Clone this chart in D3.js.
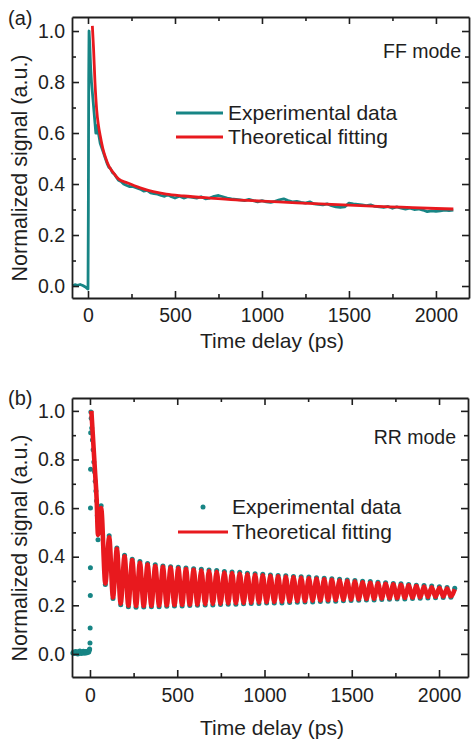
<!DOCTYPE html>
<html lang="en">
<head>
  <meta charset="UTF-8">
  <title>Time-resolved signal</title>
  <style>
    html, body { margin: 0; background: #fff; }
    svg { display: block; font-family: "Liberation Sans", Arial, sans-serif; }
  </style>
</head>
<body>
  <svg id="chart"></svg>
  <script src="https://cdn.jsdelivr.net/npm/d3@7"></script>
  <script>
    // ---- data ----
    var majorX = [0, 500, 1000, 1500, 2000]
    var minorX = [250, 750, 1250, 1750]
    var majorY = [0, 0.2, 0.4, 0.6, 0.8, 1.0]
    var minorY = [0.1, 0.3, 0.5, 0.7, 0.9]

    // (a) FF mode, experimental trace
    var expA_t = [-90, -75, -60, -45, -30, -15, -5, 0, 2, 4, 6, 10, 15, 20, 25, 30, 35, 40, 45, 50, 55, 60, 65, 70, 80, 90, 100, 110, 120, 130, 140, 150, 160, 175, 190, 205, 220, 240, 260, 280, 300, 320, 340, 360, 380, 400, 420, 440, 460, 480, 500, 525, 550, 575, 600, 625, 650, 675, 700, 725, 750, 775, 800, 825, 850, 875, 900, 925, 950, 975, 1000, 1025, 1050, 1075, 1100, 1125, 1150, 1175, 1200, 1225, 1250, 1275, 1300, 1325, 1350, 1375, 1400, 1425, 1450, 1475, 1500, 1525, 1550, 1575, 1600, 1625, 1650, 1675, 1700, 1725, 1750, 1775, 1800, 1825, 1850, 1875, 1900, 1925, 1950, 1975, 2000, 2025, 2050, 2075, 2100]
    var expA_v = [0.0, 0.005, 0.003, 0.006, 0.002, -0.004, -0.01, -0.012, 0.3, 0.8, 1.0, 0.95, 0.86, 0.8, 0.76, 0.72, 0.68, 0.64, 0.6, 0.6, 0.63, 0.6, 0.58, 0.56, 0.54, 0.52, 0.5, 0.48, 0.465, 0.46, 0.445, 0.44, 0.43, 0.415, 0.41, 0.4, 0.395, 0.39, 0.39, 0.385, 0.38, 0.372, 0.375, 0.365, 0.362, 0.36, 0.355, 0.352, 0.358, 0.35, 0.345, 0.352, 0.345, 0.35, 0.348, 0.345, 0.35, 0.342, 0.345, 0.352, 0.355, 0.35, 0.345, 0.342, 0.34, 0.338, 0.335, 0.34, 0.335, 0.33, 0.335, 0.33, 0.328, 0.332, 0.338, 0.342, 0.335, 0.33, 0.332, 0.328, 0.325, 0.33, 0.322, 0.32, 0.318, 0.322, 0.315, 0.31, 0.308, 0.31, 0.325, 0.322, 0.32, 0.318, 0.315, 0.318, 0.312, 0.31, 0.308, 0.312, 0.305, 0.31, 0.305, 0.302, 0.305, 0.3, 0.302, 0.298, 0.292, 0.295, 0.293, 0.295, 0.298, 0.296, 0.298]

    // (a) theoretical fitting
    var fitA_t = [25, 32, 40, 50, 60, 70, 85, 100, 120, 145, 175, 225, 300, 375, 450, 550, 700, 850, 1000, 1200, 1400, 1600, 1800, 2000, 2100]
    var fitA_v = [1.02, 0.93, 0.8, 0.69, 0.63, 0.59, 0.54, 0.505, 0.47, 0.445, 0.42, 0.405, 0.385, 0.37, 0.36, 0.353, 0.345, 0.338, 0.333, 0.326, 0.32, 0.314, 0.309, 0.304, 0.302]

    // (b) RR mode, experimental points before the oscillations
    var expB_t = [-98, -94, -90, -86, -82, -78, -74, -70, -66, -62, -58, -54, -50, -46, -42, -38, -34, -30, -26, -22, -18, -14, -10, -7, -4, -2, 0, 1, 2, 2.5, 3, 3.5, 4, 5, 7, 10, 14, 18, 22, 26, 30, 34, 38, 42, 46, 52, 58, 64]
    var expB_v = [0.004, 0.008, 0.002, 0.006, 0.01, 0.003, 0.007, 0.0, 0.009, 0.004, 0.012, 0.005, 0.002, 0.008, 0.006, 0.011, 0.003, 0.007, 0.01, 0.004, 0.009, 0.006, 0.012, 0.008, 0.015, 0.02, 0.045, 0.107, 0.24, 0.355, 0.6, 0.76, 0.91, 0.995, 0.97, 0.93, 0.88, 0.84, 0.79, 0.75, 0.71, 0.67, 0.63, 0.57, 0.47, 0.5, 0.56, 0.61]

    // (b) oscillation extrema
    var peakB_t = [110, 154, 198, 242, 286, 330, 374, 418, 462, 506, 550, 594, 638, 682, 726, 770, 814, 858, 902, 946, 990, 1034, 1078, 1122, 1166, 1210, 1254, 1298, 1342, 1386, 1430, 1474, 1518, 1562, 1606, 1650, 1694, 1738, 1782, 1826, 1870, 1914, 1958, 2002, 2046, 2090]
    var troughB_t = [88, 132, 176, 220, 264, 308, 352, 396, 440, 484, 528, 572, 616, 660, 704, 748, 792, 836, 880, 924, 968, 1012, 1056, 1100, 1144, 1188, 1232, 1276, 1320, 1364, 1408, 1452, 1496, 1540, 1584, 1628, 1672, 1716, 1760, 1804, 1848, 1892, 1936, 1980, 2024, 2068]
    var expPeakB = [0.486, 0.436, 0.406, 0.39, 0.38, 0.372, 0.367, 0.362, 0.359, 0.357, 0.353, 0.35, 0.348, 0.345, 0.343, 0.339, 0.337, 0.336, 0.332, 0.33, 0.328, 0.325, 0.323, 0.322, 0.319, 0.317, 0.316, 0.313, 0.311, 0.309, 0.307, 0.304, 0.302, 0.299, 0.298, 0.295, 0.293, 0.29, 0.289, 0.286, 0.283, 0.281, 0.279, 0.276, 0.273, 0.27]
    var expTroughB = [0.286, 0.228, 0.202, 0.194, 0.192, 0.193, 0.194, 0.194, 0.196, 0.197, 0.197, 0.199, 0.2, 0.201, 0.201, 0.203, 0.204, 0.204, 0.206, 0.207, 0.207, 0.209, 0.21, 0.21, 0.212, 0.213, 0.214, 0.214, 0.216, 0.217, 0.217, 0.219, 0.22, 0.221, 0.222, 0.222, 0.224, 0.225, 0.226, 0.226, 0.228, 0.229, 0.23, 0.231, 0.232, 0.233]

    // (b) theoretical fitting: steep start, then the extrema
    var fitB0_t = [8, 18, 28, 38, 46, 64]
    var fitB0_v = [1.0, 0.88, 0.76, 0.64, 0.49, 0.6]
    var fitPeakB = [0.48, 0.432, 0.402, 0.386, 0.375, 0.368, 0.362, 0.358, 0.355, 0.352, 0.349, 0.346, 0.343, 0.341, 0.338, 0.335, 0.333, 0.331, 0.328, 0.326, 0.323, 0.321, 0.319, 0.317, 0.315, 0.313, 0.311, 0.309, 0.307, 0.305, 0.302, 0.3, 0.298, 0.295, 0.293, 0.291, 0.289, 0.286, 0.284, 0.282, 0.279, 0.277, 0.274, 0.272, 0.269, 0.266]
    var fitTroughB = [0.29, 0.232, 0.207, 0.199, 0.197, 0.197, 0.198, 0.199, 0.2, 0.201, 0.202, 0.203, 0.204, 0.205, 0.206, 0.207, 0.208, 0.209, 0.21, 0.211, 0.212, 0.213, 0.214, 0.215, 0.216, 0.217, 0.218, 0.219, 0.22, 0.221, 0.222, 0.223, 0.224, 0.225, 0.226, 0.227, 0.228, 0.229, 0.23, 0.231, 0.232, 0.233, 0.234, 0.235, 0.236, 0.237]

    var teal = '#178585'
    var red = '#e8191e'
    var ink = '#1e1e1e'

    var svg = d3.select('#chart').attr('width', 474).attr('height', 740)

    function zip(ts, vs) {
      return ts.map((t, i) => ({ t: t, v: vs[i] }))
    }

    function drawFrame(g, x, y, labelPad) {
      var x0 = x.range()[0], x1 = x.range()[1]
      var y0 = y.range()[0], y1 = y.range()[1]
      var axes = [
        { a: d3.axisBottom(x).tickValues(majorX).tickFormat(d3.format('d')), tr: `translate(0,${y0})` },
        { a: d3.axisTop(x).tickValues(majorX).tickFormat(''), tr: `translate(0,${y1})` },
        { a: d3.axisLeft(y).tickValues(majorY).tickFormat(d3.format('.1f')), tr: `translate(${x0},0)`, left: true },
        { a: d3.axisRight(y).tickValues(majorY).tickFormat(''), tr: `translate(${x1},0)` }
      ]
      axes.forEach(o => {
        var ax = g.append('g').attr('transform', o.tr)
          .call(o.a.tickSizeInner(-7).tickSizeOuter(0).tickPadding(o.left ? 7 : labelPad))
        ax.select('.domain').attr('stroke', ink).attr('stroke-width', 1.8)
        ax.selectAll('.tick line').attr('stroke', ink).attr('stroke-width', 1.6)
        ax.selectAll('.tick text').attr('fill', ink).attr('font-size', 19.5)
          .attr('font-family', '"Liberation Sans", Arial, sans-serif')
      })
      var minors = [
        { a: d3.axisBottom(x).tickValues(minorX), tr: `translate(0,${y0})` },
        { a: d3.axisTop(x).tickValues(minorX), tr: `translate(0,${y1})` },
        { a: d3.axisLeft(y).tickValues(minorY), tr: `translate(${x0},0)` },
        { a: d3.axisRight(y).tickValues(minorY), tr: `translate(${x1},0)` }
      ]
      minors.forEach(o => {
        var ax = g.append('g').attr('transform', o.tr)
          .call(o.a.tickSizeInner(-4).tickSizeOuter(0).tickFormat(''))
        ax.select('.domain').remove()
        ax.selectAll('.tick line').attr('stroke', ink).attr('stroke-width', 1.6)
      })
    }

    function titles(g, xBase, yMid, tag, tagY, mode, modeX, modeY) {
      g.append('text').attr('x', 272).attr('y', xBase).attr('text-anchor', 'middle')
        .attr('font-size', 21).attr('fill', ink).text('Time delay (ps)')
      g.append('text').attr('transform', `translate(27,${yMid}) rotate(-90)`).attr('text-anchor', 'middle')
        .attr('font-size', 21.5).attr('fill', ink).text('Normalized signal (a.u.)')
      g.append('text').attr('x', 8).attr('y', tagY).attr('font-size', 20).attr('fill', ink).text(tag)
      g.append('text').attr('x', modeX).attr('y', modeY).attr('text-anchor', 'end')
        .attr('font-size', 19.5).attr('fill', ink).text(mode)
    }

    // ---- panel (a) ----
    var xa = d3.scaleLinear().domain([-92, 2190]).range([72, 469])
    var ya = d3.scaleLinear().domain([-0.047, 1.055]).range([298, 17])
    var ga = svg.append('g')

    var lineA = d3.line().x(d => xa(d.t)).y(d => ya(d.v))
    ga.append('path').datum(zip(expA_t, expA_v))
      .attr('fill', 'none').attr('stroke', teal).attr('stroke-width', 2.8)
      .attr('stroke-linejoin', 'round').attr('d', lineA)
    ga.append('path').datum(zip(fitA_t, fitA_v))
      .attr('fill', 'none').attr('stroke', red).attr('stroke-width', 2.8)
      .attr('d', lineA.curve(d3.curveMonotoneX))

    drawFrame(ga, xa, ya, 10.5)
    titles(ga, 348, 168, '(a)', 25, 'FF mode', 461, 58)

    // legend (a)
    var legA = ga.append('g').attr('font-size', 21).attr('fill', ink)
    ;[{ c: teal, s: 'Experimental data', y: 113 }, { c: red, s: 'Theoretical fitting', y: 137 }].forEach(d => {
      legA.append('line').attr('x1', 176).attr('x2', 223).attr('y1', d.y).attr('y2', d.y)
        .attr('stroke', d.c).attr('stroke-width', 3)
      legA.append('text').attr('x', 228).attr('y', d.y + 7).text(d.s)
    })

    // ---- panel (b) ----
    var xb = d3.scaleLinear().domain([-103, 2166]).range([72, 468])
    var yb = d3.scaleLinear().domain([-0.095, 1.053]).range([677, 398])
    var gb = svg.append('g')

    var dotsB = zip(expB_t, expB_v)
      .concat(zip(peakB_t, expPeakB))
      .concat(zip(troughB_t, expTroughB))
    gb.append('g').attr('fill', teal).selectAll('circle').data(dotsB).join('circle')
      .attr('cx', d => xb(d.t)).attr('cy', d => yb(d.v)).attr('r', 2.5)

    var fitB = zip(fitB0_t, fitB0_v)
      .concat(zip(peakB_t, fitPeakB))
      .concat(zip(troughB_t, fitTroughB))
      .sort((a, b) => a.t - b.t)
    gb.append('path').datum(fitB)
      .attr('fill', 'none').attr('stroke', red).attr('stroke-width', 4.6)
      .attr('stroke-linejoin', 'round')
      .attr('d', d3.line().x(d => xb(d.t)).y(d => yb(d.v)).curve(d3.curveMonotoneX))

    drawFrame(gb, xb, yb, 11.5)
    titles(gb, 735, 548, '(b)', 405, 'RR mode', 456, 444)

    // legend (b)
    var legB = gb.append('g').attr('font-size', 21).attr('fill', ink)
    legB.append('circle').attr('cx', 203).attr('cy', 507).attr('r', 2.5).attr('fill', teal)
    legB.append('text').attr('x', 232).attr('y', 514).text('Experimental data')
    legB.append('line').attr('x1', 178).attr('x2', 228).attr('y1', 532).attr('y2', 532)
      .attr('stroke', red).attr('stroke-width', 3)
    legB.append('text').attr('x', 232).attr('y', 539).text('Theoretical fitting')
  </script>
</body>
</html>
